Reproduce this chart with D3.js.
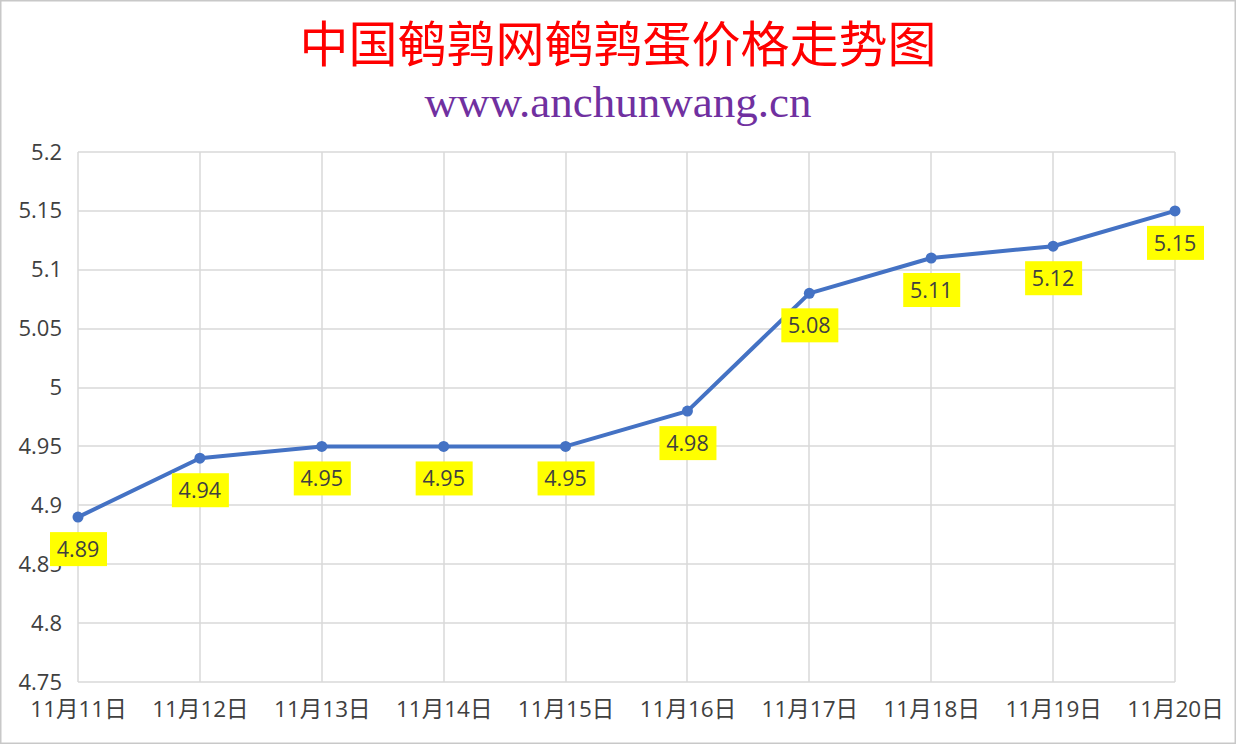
<!DOCTYPE html>
<html><head><meta charset="utf-8">
<script src="https://cdn.jsdelivr.net/npm/d3@7"></script>
<style>body{margin:0;background:#fff}svg{display:block}</style>
</head><body>
<svg id="c" width="1237" height="745"></svg>
<script>
const categories = ["11月11日","11月12日","11月13日","11月14日","11月15日","11月16日","11月17日","11月18日","11月19日","11月20日"];
const prices = [4.89,4.94,4.95,4.95,4.95,4.98,5.08,5.11,5.12,5.15];
const yTicks = [4.75,4.8,4.85,4.9,4.95,5,5.05,5.1,5.15,5.2];
const titleText = "中国鹌鹑网鹌鹑蛋价格走势图";
const subtitleText = "www.anchunwang.cn";

const svg = d3.select("#c");
const W = 1237, H = 745;
const m = {left:78, right:1175, top:152, bottom:682};

svg.append("rect").attr("x",0.75).attr("y",0.75).attr("width",W-2.5).attr("height",H-2.5)
  .attr("fill","#fff").attr("stroke","#c8c8c8").attr("stroke-width",1.5);

const x = d3.scalePoint().domain(categories).range([m.left, m.right]);
const y = d3.scaleLinear().domain([4.75,5.2]).range([m.bottom, m.top]);

// horizontal grid
svg.append("g").selectAll("line").data(yTicks).join("line")
  .attr("x1",m.left).attr("x2",m.right)
  .attr("y1",d=>Math.round(y(d))).attr("y2",d=>Math.round(y(d)))
  .attr("stroke","#d9d9d9").attr("stroke-width",1.5);
// vertical grid
svg.append("g").selectAll("line").data(categories).join("line")
  .attr("y1",m.top).attr("y2",m.bottom)
  .attr("x1",d=>Math.round(x(d))).attr("x2",d=>Math.round(x(d)))
  .attr("stroke","#d9d9d9").attr("stroke-width",1.5);

// y axis labels
const yAxis = d3.axisLeft(y).tickValues(yTicks).tickSize(0).tickPadding(16).tickFormat(d=>String(d));
const gy = svg.append("g").attr("transform",`translate(${m.left},0)`).call(yAxis);
gy.select(".domain").remove();
gy.selectAll("text").attr("font-family","'Open Sans','Liberation Sans',sans-serif")
  .attr("font-size",22).attr("fill","#404040");

// x axis labels
const xAxis = d3.axisBottom(x).tickSize(0).tickPadding(19);
const gx = svg.append("g").attr("transform",`translate(0,${m.bottom})`).call(xAxis);
gx.select(".domain").remove();
gx.selectAll("text").attr("font-family","'Open Sans','Noto Sans CJK SC',sans-serif")
  .attr("font-size",22.5).attr("fill","#404040");

// line
const line = d3.line().x((d,i)=>x(categories[i])).y(d=>y(d));
svg.append("path").datum(prices).attr("d",line).attr("fill","none")
  .attr("stroke","#4472C4").attr("stroke-width",4).attr("stroke-linejoin","round");
svg.append("g").selectAll("circle").data(prices).join("circle")
  .attr("cx",(d,i)=>x(categories[i])).attr("cy",d=>y(d)).attr("r",5.5)
  .attr("fill","#4472C4");

// data labels
const lg = svg.append("g").selectAll("g").data(prices).join("g")
  .attr("transform",(d,i)=>`translate(${x(categories[i])},${y(d)+32})`);
lg.append("rect").attr("x",-28).attr("y",-17).attr("width",57).attr("height",34).attr("fill","#ffff00");
lg.append("text").text(d=>d.toFixed(2)).attr("text-anchor","middle").attr("dy","0.36em")
  .attr("font-family","'Open Sans','Liberation Sans',sans-serif").attr("font-size",21.5).attr("fill","#404040");

// titles
svg.append("text").text(titleText).attr("x",618).attr("y",44).attr("dy","0.36em")
  .attr("text-anchor","middle").attr("fill","#ff0000")
  .attr("font-family","'Noto Sans CJK SC',sans-serif").attr("font-size",49);
svg.append("text").text(subtitleText).attr("x",618).attr("y",103).attr("dy","0.32em")
  .attr("text-anchor","middle").attr("fill","#7030A0")
  .attr("font-family","'Liberation Serif','DejaVu Serif',serif").attr("font-size",45);
</script>
</body></html>
